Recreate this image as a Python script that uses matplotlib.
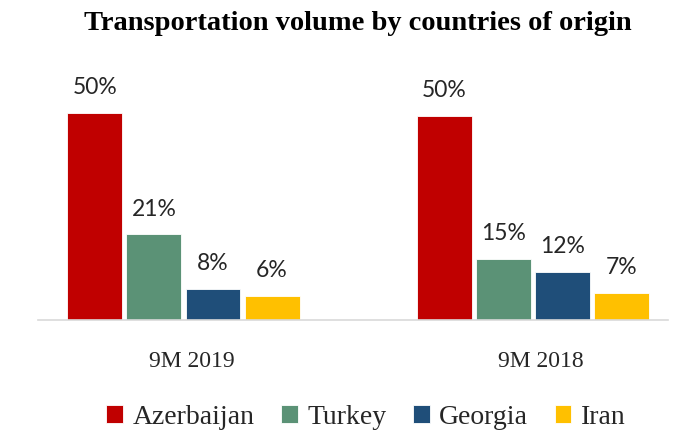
import matplotlib
matplotlib.use("Agg")
import matplotlib.pyplot as plt
import matplotlib.transforms as mtransforms
from matplotlib.font_manager import FontProperties
import numpy as np

categories = ["9M 2019", "9M 2018"]
series = ["Azerbaijan", "Turkey", "Georgia", "Iran"]
azerbaijan = [50.3, 49.6]
turkey = [20.8, 14.8]
georgia = [7.6, 11.7]
iran = [5.9, 6.6]
colors = ["#C00000", "#5B9276", "#1F4E79", "#FFC000"]

values = [azerbaijan, turkey, georgia, iran]

serif = "Liberation Serif"

fig = plt.figure(figsize=(6.97, 4.32), dpi=100)
ax = fig.add_axes([38/697, 1-320/432, 630/697, 280/432])

x = np.arange(len(categories))
width = 0.157
pitch = 0.169
offsets = (np.arange(len(series)) - 1.5) * pitch
for i, (name, vals) in enumerate(zip(series, values)):
    bars = ax.bar(x + offsets[i], vals, width, color=colors[i], label=name,
                  edgecolor="white", linewidth=0.6)
    for b, v in zip(bars, vals):
        ax.text(b.get_x() + b.get_width()/2, v + 3.6, f"{round(v):.0f}%",
                ha="center", va="bottom", fontsize=16.5, family="Lato",
                color="#262626")

ax.set_xlim(-0.416, 1.386)
ax.set_ylim(0, 68)
ax.set_xticks(x)
ax.set_xticklabels(categories, family=serif, fontsize=17, color="#262626")
ax.tick_params(axis="x", length=0, pad=22)
shift = mtransforms.ScaledTranslation(8/100, 0, fig.dpi_scale_trans)
for lbl in ax.get_xticklabels():
    lbl.set_transform(lbl.get_transform() + shift)
ax.set_yticks([])
for s in ["top", "right", "left"]:
    ax.spines[s].set_visible(False)
ax.spines["bottom"].set_color("#D9D9D9")
ax.spines["bottom"].set_linewidth(1.2)

fig.text(358/697, 1-24/432, "Transportation volume by countries of origin",
         ha="center", va="center", fontsize=20.5, fontweight="bold",
         family=serif, color="#000000")

leg = fig.legend(loc="center", bbox_to_anchor=(366/697, 1-417/432), ncol=4,
                 frameon=False, prop=FontProperties(family=serif, size=20),
                 handlelength=0.6, handleheight=0.6, handletextpad=0.35,
                 columnspacing=0.95)
for t in leg.get_texts():
    t.set_color("#262626")

fig.savefig("out.png", dpi=100)
